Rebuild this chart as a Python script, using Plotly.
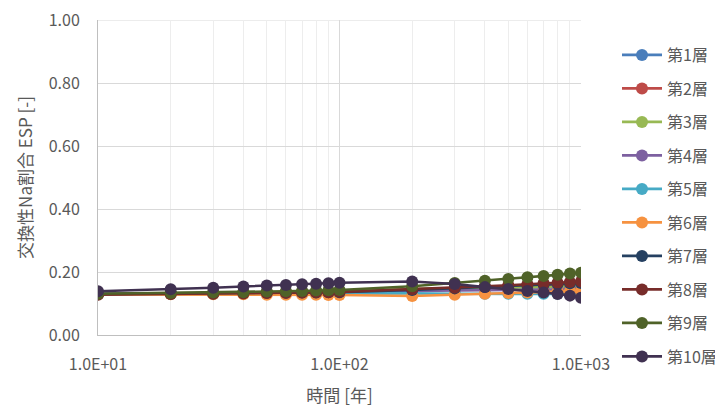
import plotly.graph_objects as go

years = [10, 20, 30, 40, 50, 60, 70, 80, 90, 100, 200, 300, 400, 500, 600, 700, 800, 900, 1000]

layer_names = ["第1層", "第2層", "第3層", "第4層", "第5層", "第6層", "第7層", "第8層", "第9層", "第10層"]

esp_layer1 = [0.130, 0.131, 0.132, 0.133, 0.133, 0.134, 0.134, 0.135, 0.135, 0.136, 0.142, 0.145, 0.147, 0.149, 0.151, 0.152, 0.153, 0.154, 0.155]
esp_layer2 = [0.130, 0.131, 0.132, 0.133, 0.134, 0.135, 0.135, 0.136, 0.136, 0.137, 0.145, 0.149, 0.152, 0.154, 0.156, 0.158, 0.159, 0.160, 0.161]
esp_layer3 = [0.131, 0.132, 0.133, 0.134, 0.135, 0.136, 0.137, 0.138, 0.138, 0.139, 0.146, 0.148, 0.149, 0.150, 0.151, 0.151, 0.152, 0.152, 0.153]
esp_layer4 = [0.130, 0.131, 0.132, 0.133, 0.133, 0.134, 0.134, 0.135, 0.135, 0.135, 0.140, 0.141, 0.142, 0.143, 0.143, 0.144, 0.144, 0.145, 0.145]
esp_layer5 = [0.129, 0.130, 0.130, 0.131, 0.131, 0.131, 0.132, 0.132, 0.132, 0.132, 0.132, 0.131, 0.131, 0.131, 0.131, 0.131, 0.131, 0.130, 0.130]
esp_layer6 = [0.129, 0.129, 0.129, 0.129, 0.128, 0.128, 0.128, 0.128, 0.127, 0.127, 0.124, 0.128, 0.131, 0.133, 0.135, 0.137, 0.138, 0.139, 0.140]
esp_layer7 = [0.130, 0.131, 0.132, 0.133, 0.134, 0.134, 0.135, 0.135, 0.136, 0.136, 0.143, 0.148, 0.152, 0.155, 0.158, 0.160, 0.162, 0.164, 0.165]
esp_layer8 = [0.128, 0.130, 0.131, 0.132, 0.133, 0.134, 0.135, 0.136, 0.136, 0.137, 0.145, 0.150, 0.155, 0.158, 0.161, 0.164, 0.166, 0.168, 0.170]
esp_layer9 = [0.131, 0.133, 0.135, 0.136, 0.138, 0.139, 0.140, 0.141, 0.142, 0.143, 0.155, 0.165, 0.172, 0.178, 0.183, 0.187, 0.191, 0.195, 0.198]
esp_layer10 = [0.139, 0.145, 0.150, 0.154, 0.157, 0.159, 0.161, 0.163, 0.164, 0.166, 0.170, 0.162, 0.152, 0.146, 0.140, 0.135, 0.130, 0.125, 0.118]

series = [esp_layer1, esp_layer2, esp_layer3, esp_layer4, esp_layer5,
          esp_layer6, esp_layer7, esp_layer8, esp_layer9, esp_layer10]

colors = ["#4A7EBB", "#BE4B48", "#98B954", "#7D60A0", "#46AAC5",
          "#F69240", "#254061", "#772C2A", "#4F6228", "#403151"]

y_ticks = [0.0, 0.2, 0.4, 0.6, 0.8, 1.0]
x_ticks = [10, 100, 1000]
x_tick_labels = ["1.0E+01", "1.0E+02", "1.0E+03"]

fig = go.Figure()
for name, vals, col in zip(layer_names, series, colors):
    fig.add_trace(go.Scatter(
        x=years, y=vals, name=name, mode="lines+markers",
        line=dict(color=col, width=2.6),
        marker=dict(color=col, size=12),
        legendgroup=name,
    ))

# top gridline (plotly clips gridlines lying exactly on the plot edge)
fig.add_shape(type="line", xref="paper", yref="y", x0=0, x1=1,
              y0=y_ticks[-1], y1=y_ticks[-1],
              line=dict(color="#D9D9D9", width=1), layer="below")

font_family = "Noto Sans CJK JP, Noto Sans, sans-serif"
fig.update_layout(
    width=723, height=408,
    margin=dict(l=90, r=150, t=12, b=81, autoexpand=False),
    paper_bgcolor="white", plot_bgcolor="white",
    font=dict(family=font_family, color="#595959", size=16),
    showlegend=True,
    legend=dict(x=609 / 723, y=1 - 30 / 408, yanchor="top", xanchor="left",
                xref="container", yref="container",
                font=dict(size=16, color="#595959"),
                tracegroupgap=9.7, itemwidth=40, maxheight=1.0,
                bgcolor="rgba(0,0,0,0)"),
    xaxis=dict(type="log", range=[1, 3],
               tickvals=x_ticks, ticktext=x_tick_labels,
               showgrid=True, gridcolor="#D9D9D9", gridwidth=1,
               minor=dict(showgrid=True, gridcolor="#EDEDED", gridwidth=1,
                          tickvals=[v * m for m in (10, 100) for v in range(2, 10)]),
               showline=True, linecolor="#BFBFBF", linewidth=1,
               ticks="outside", ticklen=15, tickcolor="rgba(0,0,0,0)",
               ticklabeloverflow="allow",
               zeroline=False, automargin=False,
               title=dict(text="時間 [年]", font=dict(size=17, color="#595959"), standoff=15)),
    yaxis=dict(range=[0, 1.0], tickvals=y_ticks, tickformat=".2f",
               showgrid=True, gridcolor="#D9D9D9", gridwidth=1,
               showline=True, linecolor="#BFBFBF", linewidth=1,
               ticks="outside", ticklen=14, tickcolor="rgba(0,0,0,0)",
               ticklabeloverflow="allow",
               zeroline=False, automargin=False,
               title=dict(text="交換性Na割合 ESP [-]", font=dict(size=17, color="#595959"), standoff=11)),
)

fig.write_html("out.html")
